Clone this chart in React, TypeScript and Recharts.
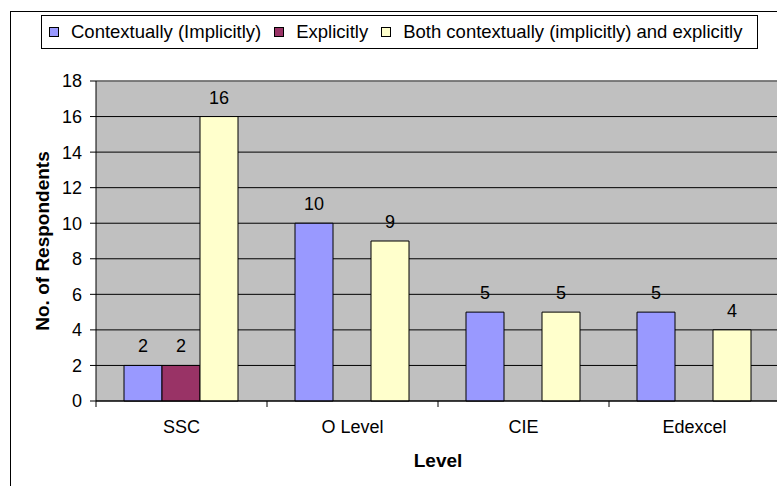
import React from 'react';
import { BarChart, Bar, XAxis, YAxis, CartesianGrid, LabelList, ReferenceLine } from 'recharts';

const levels = ['SSC', 'O Level', 'CIE', 'Edexcel'];
const contextually = [2, 10, 5, 5];
const explicitly: (number | null)[] = [2, null, null, null];
const both = [16, 9, 5, 4];
const yTicks = [0, 2, 4, 6, 8, 10, 12, 14, 16, 18];

const seriesInfo = [
  { key: 'contextually', name: 'Contextually (Implicitly)', color: '#9999FF' },
  { key: 'explicitly', name: 'Explicitly', color: '#993366' },
  { key: 'both', name: 'Both contextually (implicitly) and explicitly', color: '#FFFFCC' },
];

const data = levels.map((level, i) => ({
  level,
  contextually: contextually[i],
  explicitly: explicitly[i],
  both: both[i],
}));

const FONT = "'Liberation Sans', Arial, sans-serif";
const TICK_MARGIN = 13;

// category label centered, tick mark at the left edge of each band (Excel style)
const LevelTick = (props: any) => {
  const { x, y, payload } = props;
  const half = payload.offset || 0;
  const axisY = y - TICK_MARGIN - 6;
  return (
    <g>
      <line x1={x - half} y1={axisY} x2={x - half} y2={axisY + 6} stroke="#000" />
      <text x={x} y={y} dy="0.71em" textAnchor="middle" fill="#000" fontSize={18} fontFamily={FONT}>
        {payload.value}
      </text>
    </g>
  );
};

const hideEmpty = (v: any) => (v === null || v === undefined || v === 0 ? '' : v);

const LegendBox = () => (
  <div
    style={{
      position: 'absolute',
      left: 41,
      top: 15,
      width: 717,
      height: 34,
      boxSizing: 'border-box',
      border: '1px solid #000',
      display: 'flex',
      alignItems: 'center',
      paddingLeft: 7,
      fontSize: 18.5,
      fontFamily: FONT,
      background: '#fff',
      whiteSpace: 'nowrap',
    }}
  >
    {seriesInfo.map((s, i) => (
      <div key={s.key} style={{ display: 'flex', alignItems: 'center', marginLeft: i === 0 ? 0 : 13 }}>
        <span
          style={{
            display: 'inline-block',
            width: 10,
            height: 10,
            boxSizing: 'border-box',
            border: '1px solid #000',
            background: s.color,
            marginRight: 12,
          }}
        />
        <span>{s.name}</span>
      </div>
    ))}
  </div>
);

export default function App() {
  return (
    <div
      style={{
        position: 'absolute',
        left: 0,
        top: 0,
        width: 777,
        height: 486,
        overflow: 'hidden',
        background: '#fff',
        fontFamily: FONT,
      }}
    >
      <div
        style={{
          position: 'absolute',
          left: 10,
          top: 11,
          width: 820,
          height: 520,
          border: '1px solid #000',
        }}
      />
      <div style={{ position: 'absolute', left: 0, top: 0 }}>
        <BarChart
          width={800}
          height={486}
          data={data}
          margin={{ top: 81, right: 20, bottom: 0, left: 0 }}
          barCategoryGap={28}
          barGap={0}
        >
          <CartesianGrid vertical={false} fill="#C0C0C0" stroke="#000" strokeOpacity={1} />
          <ReferenceLine y={18} stroke="#808080" strokeWidth={1.5} />
          <XAxis
            dataKey="level"
            height={85}
            stroke="#000"
            tickLine={false}
            tickSize={6}
            tickMargin={TICK_MARGIN}
            tick={<LevelTick />}
            interval={0}
            label={{
              value: 'Level',
              position: 'insideBottom',
              offset: 19,
              fill: '#000',
              fontSize: 19,
              fontWeight: 'bold',
            }}
          />
          <YAxis
            width={96}
            domain={[0, 18]}
            ticks={yTicks}
            interval={0}
            stroke="#000"
            tickSize={6}
            tickMargin={8}
            tick={{ fill: '#000', fontSize: 18 }}
            label={{
              value: 'No. of Respondents',
              angle: -90,
              position: 'insideLeft',
              offset: 42,
              fill: '#000',
              fontSize: 19,
              fontWeight: 'bold',
              style: { textAnchor: 'middle' },
            }}
          />
          {seriesInfo.map((s) => (
            <Bar
              key={s.key}
              dataKey={s.key}
              name={s.name}
              fill={s.color}
              stroke="#000"
              strokeWidth={1}
              isAnimationActive={false}
            >
              <LabelList dataKey={s.key} position="top" offset={13} fill="#000" fontSize={18} formatter={hideEmpty} />
            </Bar>
          ))}
        </BarChart>
      </div>
      <LegendBox />
    </div>
  );
}
